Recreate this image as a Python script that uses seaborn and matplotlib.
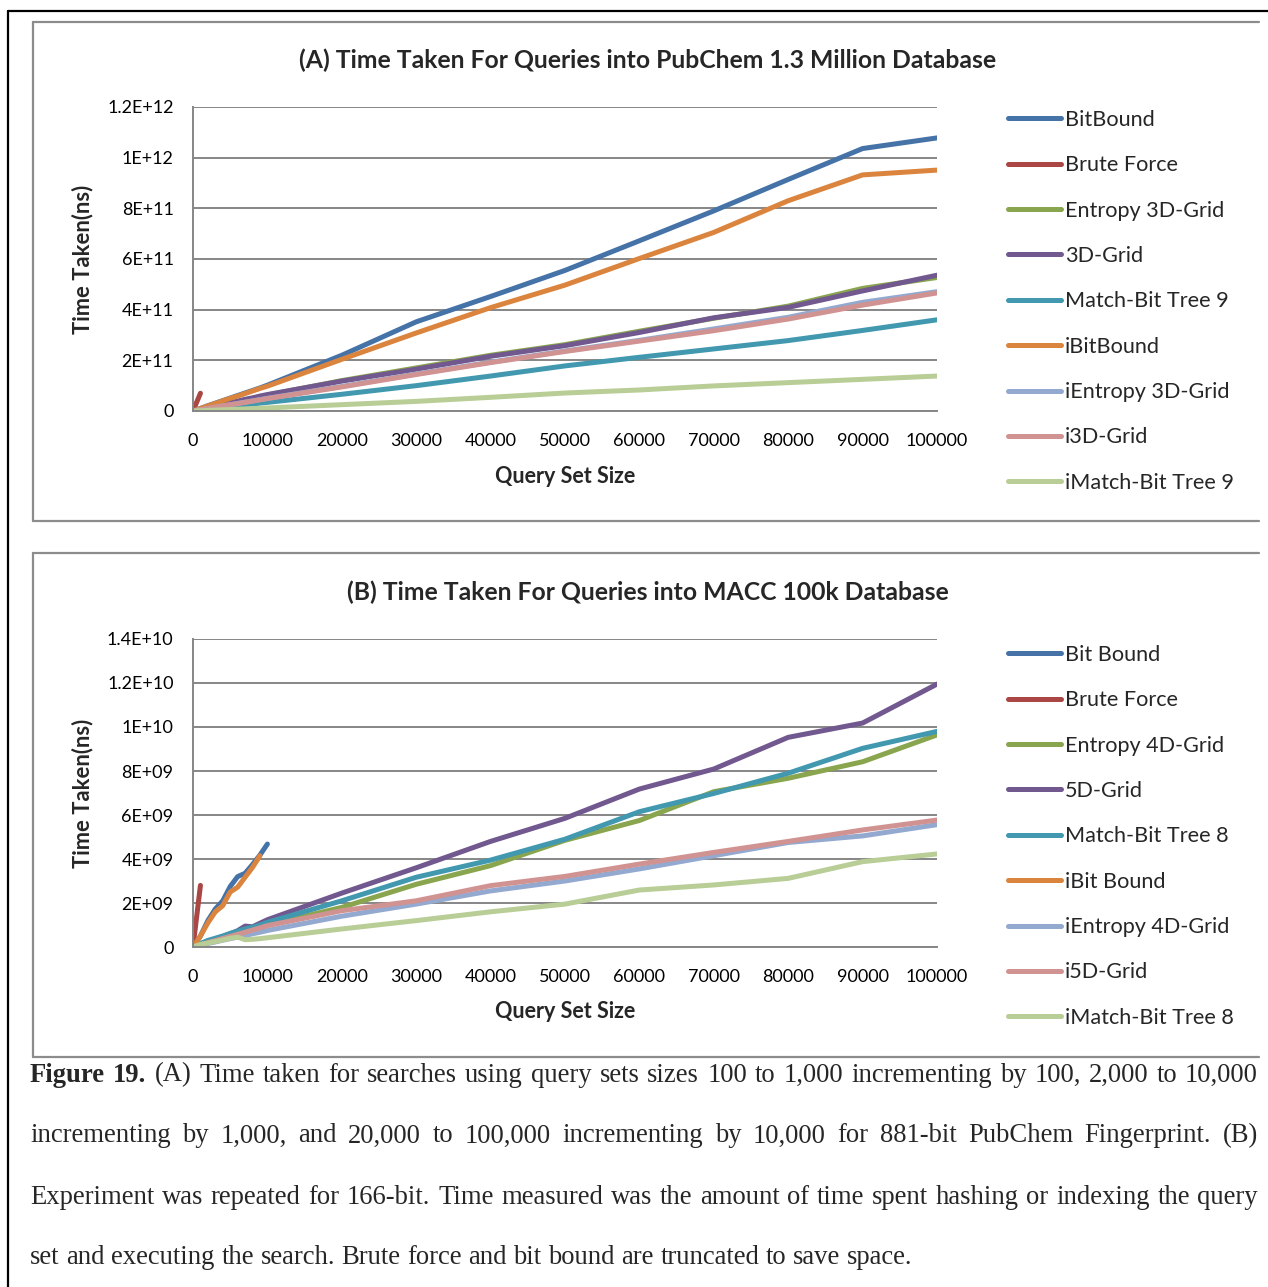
import numpy as np
import pandas as pd
import matplotlib
matplotlib.use("Agg")
import matplotlib.pyplot as plt
import seaborn as sns
from matplotlib.ticker import FuncFormatter, MultipleLocator
from matplotlib.lines import Line2D

# ---------------------------------------------------------------- data
sizes = [100, 200, 300, 400, 500, 600, 700, 800, 900, 1000,
         2000, 3000, 4000, 5000, 6000, 7000, 8000, 9000, 10000,
         20000, 30000, 40000, 50000, 60000, 70000, 80000, 90000, 100000]
NA = np.nan

# (A) PubChem 1.3 million database, times in units of 1e11 ns
labels_a = ["BitBound", "Brute Force", "Entropy 3D-Grid", "3D-Grid", "Match-Bit Tree 9",
            "iBitBound", "iEntropy 3D-Grid", "i3D-Grid", "iMatch-Bit Tree 9"]
bitbound_a = [0.01, 0.02, 0.03, 0.04, 0.05, 0.06, 0.07, 0.08, 0.09, 0.10,
              0.21, 0.31, 0.41, 0.51, 0.61, 0.71, 0.81, 0.91, 1.02,
              2.20, 3.52, 4.52, 5.55, 6.72, 7.90, 9.14, 10.36, 10.78]
brute_a = [0.07, 0.14, 0.21, 0.28, 0.35, 0.42, 0.49, 0.56, 0.63, 0.70] + [NA] * 18
entropy3d_a = [0.007, 0.013, 0.020, 0.026, 0.033, 0.040, 0.046, 0.053, 0.059, 0.066,
               0.13, 0.19, 0.25, 0.31, 0.37, 0.44, 0.50, 0.56, 0.63,
               1.20, 1.70, 2.20, 2.62, 3.15, 3.66, 4.14, 4.84, 5.27]
grid3d_a = [0.007, 0.013, 0.020, 0.026, 0.033, 0.040, 0.046, 0.053, 0.059, 0.066,
            0.13, 0.20, 0.26, 0.33, 0.39, 0.46, 0.52, 0.59, 0.65,
            1.18, 1.65, 2.16, 2.58, 3.10, 3.68, 4.09, 4.74, 5.36]
mbt9_a = [0.0035, 0.007, 0.010, 0.014, 0.017, 0.021, 0.024, 0.028, 0.031, 0.035,
          0.07, 0.10, 0.14, 0.17, 0.21, 0.24, 0.28, 0.31, 0.34,
          0.66, 1.00, 1.38, 1.78, 2.12, 2.45, 2.78, 3.18, 3.60]
ibitbound_a = [0.01, 0.02, 0.03, 0.04, 0.05, 0.06, 0.07, 0.08, 0.09, 0.10,
               0.20, 0.30, 0.40, 0.50, 0.59, 0.69, 0.79, 0.89, 0.98,
               2.04, 3.08, 4.08, 4.97, 6.02, 7.05, 8.30, 9.32, 9.51]
ientropy3d_a = [0.005, 0.010, 0.015, 0.020, 0.025, 0.030, 0.035, 0.040, 0.045, 0.050,
                0.10, 0.15, 0.20, 0.25, 0.30, 0.35, 0.40, 0.45, 0.50,
                0.97, 1.46, 1.93, 2.37, 2.79, 3.24, 3.70, 4.29, 4.71]
i3dgrid_a = [0.005, 0.010, 0.015, 0.020, 0.025, 0.029, 0.034, 0.039, 0.044, 0.049,
             0.10, 0.15, 0.20, 0.25, 0.29, 0.34, 0.39, 0.44, 0.49,
             0.95, 1.44, 1.91, 2.35, 2.76, 3.17, 3.63, 4.18, 4.66]
imbt9_a = [0.001, 0.002, 0.004, 0.005, 0.006, 0.007, 0.008, 0.010, 0.011, 0.012,
           0.024, 0.036, 0.048, 0.06, 0.072, 0.084, 0.096, 0.108, 0.12,
           0.25, 0.38, 0.54, 0.71, 0.83, 0.99, 1.12, 1.25, 1.38]

# (B) MACC 100k database, times in units of 1e9 ns
labels_b = ["Bit Bound", "Brute Force", "Entropy 4D-Grid", "5D-Grid", "Match-Bit Tree 8",
            "iBit Bound", "iEntropy 4D-Grid", "i5D-Grid", "iMatch-Bit Tree 8"]
bitbound_b = [0.05, 0.10, 0.15, 0.20, 0.25, 0.30, 0.35, 0.40, 0.45, 0.50,
              1.20, 1.73, 2.10, 2.75, 3.20, 3.35, 3.75, 4.18, 4.68] + [NA] * 9
brute_b = [0.28, 0.56, 0.84, 1.12, 1.40, 1.68, 1.96, 2.24, 2.52, 2.80] + [NA] * 18
entropy4d_b = [0.012, 0.024, 0.036, 0.048, 0.060, 0.072, 0.084, 0.096, 0.108, 0.12,
               0.22, 0.30, 0.40, 0.50, 0.58, 0.70, 0.78, 0.88, 1.00,
               1.80, 2.85, 3.70, 4.85, 5.75, 7.06, 7.67, 8.42, 9.64]
grid5d_b = [0.015, 0.030, 0.045, 0.060, 0.075, 0.090, 0.105, 0.120, 0.135, 0.15,
            0.25, 0.35, 0.48, 0.60, 0.74, 0.95, 0.92, 1.08, 1.24,
            2.45, 3.60, 4.80, 5.85, 7.18, 8.09, 9.53, 10.18, 11.95]
mbt8_b = [0.015, 0.030, 0.045, 0.060, 0.075, 0.090, 0.105, 0.120, 0.135, 0.15,
          0.30, 0.40, 0.50, 0.62, 0.72, 0.82, 0.90, 1.00, 1.12,
          2.10, 3.17, 3.95, 4.90, 6.15, 6.98, 7.90, 9.03, 9.80]
ibitbound_b = [0.05, 0.10, 0.15, 0.20, 0.25, 0.30, 0.35, 0.40, 0.45, 0.50,
               1.10, 1.60, 1.88, 2.50, 2.72, 3.17, 3.62, 4.15] + [NA] * 10
ientropy4d_b = [0.008, 0.016, 0.024, 0.032, 0.040, 0.048, 0.056, 0.064, 0.072, 0.08,
                0.16, 0.23, 0.31, 0.38, 0.45, 0.52, 0.60, 0.67, 0.75,
                1.40, 1.95, 2.55, 3.00, 3.55, 4.15, 4.75, 5.05, 5.56]
i5dgrid_b = [0.010, 0.020, 0.030, 0.040, 0.050, 0.060, 0.070, 0.080, 0.090, 0.10,
             0.20, 0.29, 0.39, 0.48, 0.58, 0.67, 0.77, 0.87, 0.97,
             1.65, 2.10, 2.79, 3.21, 3.77, 4.30, 4.80, 5.32, 5.77]
imbt8_b = [0.012, 0.024, 0.036, 0.048, 0.060, 0.072, 0.084, 0.096, 0.108, 0.12,
           0.18, 0.25, 0.32, 0.40, 0.45, 0.33, 0.35, 0.38, 0.42,
           0.82, 1.20, 1.60, 1.95, 2.59, 2.82, 3.12, 3.88, 4.23]

colors = ["#4572A7", "#AA4643", "#89A54E", "#71588F", "#4198AF",
          "#DB843D", "#93A9CF", "#D19392", "#B9CD96"]

caption_lines = [
    "Figure 19. (A) Time taken for searches using query sets sizes 100 to 1,000 incrementing by 100, 2,000 to 10,000",
    "incrementing by 1,000, and 20,000 to 100,000 incrementing by 10,000 for 881-bit PubChem Fingerprint. (B)",
    "Experiment was repeated for 166-bit.  Time measured was the amount of time spent hashing or indexing the query",
    "set and executing the search.  Brute force and bit bound are truncated to save space.",
]

# ---------------------------------------------------------------- style
sns.set_theme(style="white")
plt.rcParams["font.family"] = ["Lato", "DejaVu Sans"]

W, H = 1268, 1287
fig = plt.figure(figsize=(W / 100, H / 100), dpi=100)
fig.patch.set_facecolor("white")


def fx(px):
    return px / W


def fy(py):
    return 1 - py / H


GRID = "#868686"
LW = 3.6


def sci_label(v, pos):
    if abs(v) < 1e-9:
        return "0"
    mant, exp = f"{v:.1E}".split("E")
    mant = mant.rstrip("0").rstrip(".")
    return f"{mant}E{exp}"


def panel(top, bottom, series, labels, unit, ymax, ystep, title, box, legend_y):
    # surrounding chart box
    bx0, by0, bx1, by1 = box
    for xs, ys in [((bx0, bx1), (by0, by0)), ((bx0, bx0), (by0, by1)), ((bx0, bx1), (by1, by1))]:
        fig.add_artist(Line2D([fx(x) for x in xs], [fy(y) for y in ys],
                              transform=fig.transFigure, color="#8C8C8C", lw=1.6))

    ax = fig.add_axes([fx(193), fy(bottom), (937 - 193) / W, (bottom - top) / H])
    frames = [pd.DataFrame({"size": sizes, "time": np.asarray(v, float) * unit, "method": lab})
              for lab, v in zip(labels, series)]
    df = pd.concat(frames, ignore_index=True).dropna()
    sns.lineplot(data=df, x="size", y="time", hue="method", hue_order=labels,
                 palette=colors, linewidth=LW, estimator=None, sort=False,
                 legend=False, ax=ax)
    for ln in ax.lines:
        ln.set_solid_capstyle("round")
        ln.set_solid_joinstyle("round")

    ax.set_xlim(0, 100000)
    ax.set_ylim(0, ymax)
    ax.xaxis.set_major_locator(MultipleLocator(10000))
    ax.yaxis.set_major_locator(MultipleLocator(ystep))
    ax.yaxis.set_major_formatter(FuncFormatter(sci_label))
    ax.xaxis.set_major_formatter(FuncFormatter(lambda v, p: f"{int(round(v))}"))
    ax.grid(False)
    ax.yaxis.grid(True, color=GRID, lw=1.4)
    ax.set_axisbelow(True)
    for s in ("top", "right"):
        ax.spines[s].set_visible(False)
    for s in ("left", "bottom"):
        ax.spines[s].set_color(GRID)
        ax.spines[s].set_linewidth(1.4)
    ax.tick_params(axis="both", length=0, labelsize=13, colors="black")
    ax.tick_params(axis="y", pad=14)
    ax.tick_params(axis="x", pad=16)
    ax.set_xlabel("")
    ax.set_ylabel("")

    fig.text(fx(648), fy(top - 47), title, ha="center", va="center",
             fontsize=17.8, fontweight="bold")
    fig.text(fx(565), fy(bottom + 65), "Query Set Size", ha="center", va="center",
             fontsize=15.5, fontweight="bold")
    fig.text(fx(83), fy((top + bottom) / 2), "Time Taken(ns)", ha="center", va="center",
             rotation=90, fontsize=15.8, fontweight="bold")

    handles = [Line2D([], [], color=c, lw=LW, solid_capstyle="round") for c in colors]
    ax.legend(handles, labels, loc="upper left",
              bbox_to_anchor=(fx(1008), fy(legend_y - 10)), bbox_transform=fig.transFigure,
              frameon=False, fontsize=15.6, handlelength=2.45, handletextpad=0.18,
              labelspacing=1.17, borderpad=0, borderaxespad=0)
    return ax


panel(107, 411,
      [bitbound_a, brute_a, entropy3d_a, grid3d_a, mbt9_a,
       ibitbound_a, ientropy3d_a, i3dgrid_a, imbt9_a],
      labels_a, 1e11, 1.2e12, 2e11,
      "(A) Time Taken For Queries into PubChem 1.3 Million Database",
      (33, 22, 1259, 521), 120)

panel(639, 947,
      [bitbound_b, brute_b, entropy4d_b, grid5d_b, mbt8_b,
       ibitbound_b, ientropy4d_b, i5dgrid_b, imbt8_b],
      labels_b, 1e9, 1.4e10, 2e9,
      "(B) Time Taken For Queries into MACC 100k Database",
      (33, 553, 1259, 1057), 655)

# outer frame of the figure block
fig.add_artist(Line2D([fx(8), fx(1268)], [fy(11), fy(11)], transform=fig.transFigure,
                      color="black", lw=1.6))
fig.add_artist(Line2D([fx(8), fx(8)], [fy(11), fy(1287)], transform=fig.transFigure,
                      color="black", lw=1.6))

# ---------------------------------------------------------------- caption (justified)
renderer = fig.canvas.get_renderer()
CAP_FONT = ["Liberation Serif", "DejaVu Serif"]
CAP_SIZE = 19.2


def text_width(s, bold=False):
    t = fig.text(0, 0, s, fontsize=CAP_SIZE, family=CAP_FONT,
                 fontweight="bold" if bold else "normal")
    w = t.get_window_extent(renderer).width
    t.remove()
    return w


space_w = text_width("a a") - text_width("aa")
left_px, right_px = 30, 1258
line_y = [1075, 1136, 1197, 1258]

for i, (line, ypx) in enumerate(zip(caption_lines, line_y)):
    words = line.split()
    bold_flags = [i == 0 and j < 2 for j in range(len(words))]
    widths = [text_width(w, b) for w, b in zip(words, bold_flags)]
    if i < len(caption_lines) - 1:
        gap = (right_px - left_px - sum(widths)) / (len(words) - 1)
    else:
        gap = space_w
    x = left_px
    for w, b, wd in zip(words, bold_flags, widths):
        fig.text(fx(x), fy(ypx), w, fontsize=CAP_SIZE, family=CAP_FONT,
                 fontweight="bold" if b else "normal", ha="left", va="center")
        x += wd + gap

fig.savefig("out.png", dpi=100, facecolor="white")
